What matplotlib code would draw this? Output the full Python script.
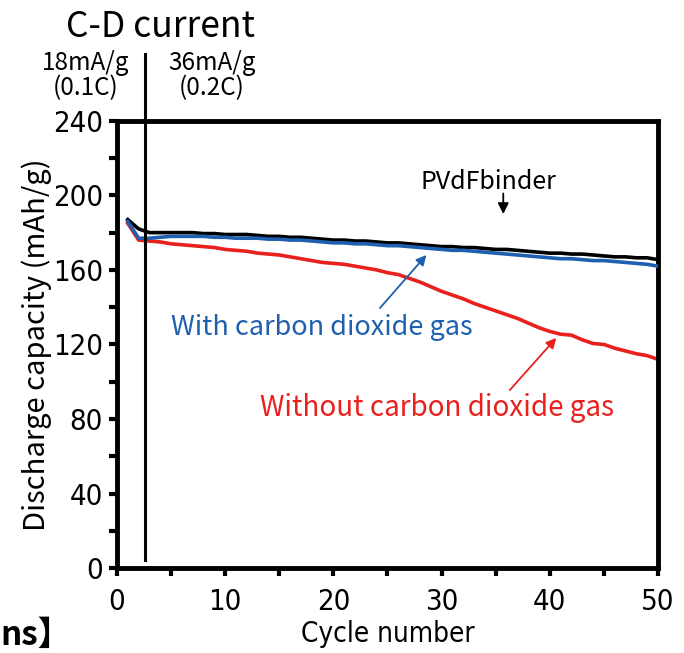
import matplotlib
matplotlib.use("Agg")
import matplotlib.pyplot as plt
from matplotlib.ticker import MultipleLocator

plt.rcParams['font.family'] = ['Noto Sans CJK JP', 'DejaVu Sans']
narrow = ['DejaVu Sans']

cycles = list(range(1, 51))
pvdf = [187, 182, 180, 180, 180, 180, 180, 179.5, 179.5, 179, 179, 179, 178.5, 178, 178, 177.5, 177.5, 177, 176.5, 176,
        176, 175.5, 175.5, 175, 174.5, 174.5, 174, 173.5, 173, 172.5, 172.5, 172, 172, 171.5, 171, 171, 170.5, 170, 169.5, 169,
        169, 168.5, 168.5, 168, 167.5, 167, 167, 166.5, 166.5, 165.5]
with_co2 = [186, 177, 177, 177.5, 178, 178, 178, 178, 177.5, 177.5, 177, 177, 177, 176.5, 176.5, 176, 176, 175.5, 175, 174.5,
            174.5, 174, 174, 173.5, 173, 173, 172.5, 172, 171.5, 171, 170.5, 170.5, 170, 169.5, 169, 168.5, 168, 167.5, 167, 166.5,
            166, 166, 165.5, 165, 165, 164.5, 164, 163.5, 163, 162]
without_co2 = [185, 176, 175.5, 175, 174, 173.5, 173, 172.5, 172, 171, 170.5, 170, 169, 168.5, 168, 167, 166, 165, 164, 163.5,
               163, 162, 161, 160, 158.5, 157.5, 155.5, 153.5, 151, 148.5, 146.5, 144.5, 142, 140, 138, 136, 134, 131.5, 129, 127,
               125.5, 125, 122.5, 120.5, 120, 118, 116.5, 115, 114, 112]

fig = plt.figure(figsize=(6.84, 6.53), dpi=100)
ax = fig.add_axes([0.171, 0.130, 0.791, 0.685])

ax.plot(cycles, pvdf, color='black', lw=2.6, zorder=3)
ax.plot(cycles, with_co2, color='#1f5fb0', lw=2.6, zorder=4)
ax.plot(cycles, without_co2, color='#e8201e', lw=2.6, zorder=2)

ax.set_xlim(0, 50)
ax.set_ylim(0, 240)
ax.xaxis.set_major_locator(MultipleLocator(10))
ax.xaxis.set_minor_locator(MultipleLocator(5))
ax.yaxis.set_major_locator(MultipleLocator(40))
ax.yaxis.set_minor_locator(MultipleLocator(20))
ax.tick_params(which='both', direction='out', width=3, length=6, pad=4)
ax.tick_params(axis='x', pad=8)
for lab in ax.get_xticklabels() + ax.get_yticklabels():
    lab.set_family(narrow)
    lab.set_stretch('condensed')
    lab.set_fontsize(21)
for s in ax.spines.values():
    s.set_linewidth(3.5)

ax.set_xlabel("Cycle number", fontsize=20, family=narrow, stretch='condensed', labelpad=3)
ax.set_ylabel("Discharge capacity (mAh/g)", fontsize=21)
ax.yaxis.set_label_coords(-0.12, 0.5)

# current change line
fig.add_artist(plt.Line2D([0.212, 0.212], [0.142, 0.917], color='black', lw=2.2))
fig.text(0.235, 0.958, "C-D current", fontsize=25.5, ha='center', va='center')
fig.text(0.125, 0.885, "18mA/g\n(0.1C)", fontsize=17.5, ha='center', va='center', linespacing=0.95)
fig.text(0.31, 0.885, "36mA/g\n(0.2C)", fontsize=17.5, ha='center', va='center', linespacing=0.95)
fig.text(0.0, 0.027, "ns】", fontsize=24, fontweight='bold', ha='left', va='center')

ax.text(34.3, 207, "PVdFbinder", fontsize=18, ha='center', va='center')
ax.annotate("", xy=(35.7, 190), xytext=(35.7, 201),
            arrowprops=dict(arrowstyle='-|>', color='black', lw=1.3, mutation_scale=16,
                            shrinkA=0, shrinkB=0))
ax.text(18.9, 129, "With carbon dioxide gas", fontsize=19.5, color='#1f5fb0', ha='center', va='center')
ax.annotate("", xy=(28.6, 168), xytext=(24.3, 139.5),
            arrowprops=dict(arrowstyle='-|>', color='#1f5fb0', lw=1.3, mutation_scale=15,
                            shrinkA=0, shrinkB=0))
ax.text(29.6, 86, "Without carbon dioxide gas", fontsize=20, color='#e8201e', ha='center', va='center')
ax.annotate("", xy=(40.6, 123.5), xytext=(36.3, 95.5),
            arrowprops=dict(arrowstyle='-|>', color='#e8201e', lw=1.3, mutation_scale=15,
                            shrinkA=0, shrinkB=0))

fig.savefig("out.png", dpi=100)
